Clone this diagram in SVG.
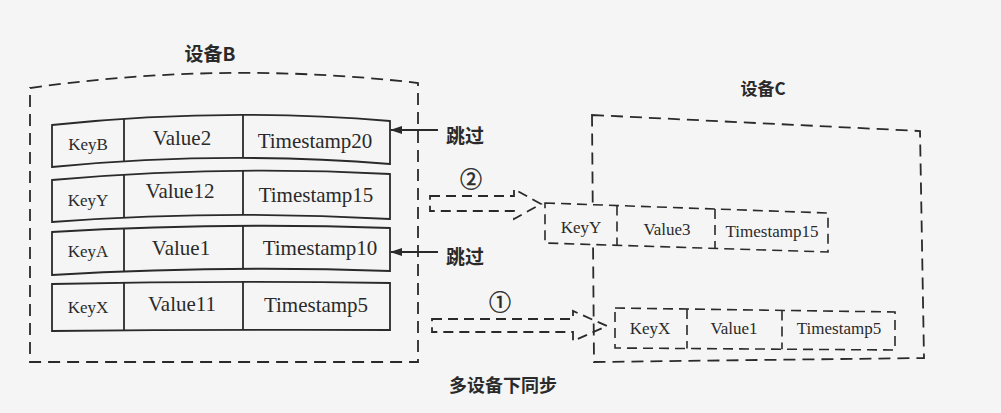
<svg xmlns="http://www.w3.org/2000/svg" width="1001" height="413" viewBox="0 0 1001 413">
<style>
.bg{fill:#f5f5f5}
.solid{fill:none;stroke:#2a2a2a;stroke-width:1.8}
.dash{fill:none;stroke:#2a2a2a;stroke-width:1.8;stroke-dasharray:12 7}
.dashs{fill:#f5f5f5;stroke:#2a2a2a;stroke-width:1.6;stroke-dasharray:10 6}
.cell{fill:#2a2a2a;font-family:"Liberation Serif","Times New Roman",serif;text-anchor:middle}
.k{font-size:17px}
.v{font-size:21px}
.c{font-size:17px}
.cjk{fill:#2a2a2a;font-family:"Noto Sans CJK SC",sans-serif;font-weight:bold}
.num{fill:#2a2a2a;font-family:"Noto Sans CJK SC",sans-serif;font-size:22px;text-anchor:middle;stroke:#2a2a2a;stroke-width:0.5}
</style>
<defs>
<marker id="ah" markerWidth="12" markerHeight="10" refX="11" refY="5" orient="auto" markerUnits="userSpaceOnUse">
<path d="M0,1 L12,5 L0,9 Z" fill="#2a2a2a"/>
</marker>
</defs>
<rect class="bg" x="0" y="0" width="1001" height="413"/>

<g id="deviceB">
<path class="dash" d="M30,88 Q224,60.5 418,83 L418,362 L30,362 Z"/>
<text class="cjk" x="210" y="61" font-size="19" text-anchor="middle">设备B</text>
</g>

<g id="rowB1">
<path class="solid" d="M52,125 Q221,107 390,121 L390,164 Q221,150.5 52,167 Z"/>
<path class="solid" d="M124,118.7 L124,161.2 M243,114.8 L243,157.9"/>
<text class="cell k" x="88" y="150">KeyB</text>
<text class="cell v" x="182" y="145">Value2</text>
<text class="cell v" x="315" y="148">Timestamp20</text>
</g>
<g id="rowB2">
<path class="solid" d="M52,180 Q221,165 390,174 L390,219 Q221,209.5 52,222 Z"/>
<path class="solid" d="M124,174.6 L124,217.5 M243,170.6 L243,214.9"/>
<text class="cell k" x="88" y="206">KeyY</text>
<text class="cell v" x="180" y="198">Value12</text>
<text class="cell v" x="316" y="202">Timestamp15</text>
</g>
<g id="rowB3">
<path class="solid" d="M52,232 Q221,222 390,228 L390,271 Q221,265 52,275 Z"/>
<path class="solid" d="M124,228.4 L124,271.3 M243,225.6 L243,268.7"/>
<text class="cell k" x="88" y="257">KeyA</text>
<text class="cell v" x="181" y="255">Value1</text>
<text class="cell v" x="320" y="255">Timestamp10</text>
</g>
<g id="rowB4">
<path class="solid" d="M52,284 Q221,280.5 390,283 L390,330 Q221,329.5 52,331 Z"/>
<path class="solid" d="M124,282.6 L124,330.3 M243,281.9 L243,329.9"/>
<text class="cell k" x="88" y="313">KeyX</text>
<text class="cell v" x="182" y="311">Value11</text>
<text class="cell v" x="316" y="312">Timestamp5</text>
</g>

<g id="deviceC">
<path class="dash" d="M592,115 L920,131 L924,358 L594,362 Z"/>
<text class="cjk" x="763" y="95" font-size="17" text-anchor="middle">设备C</text>
</g>

<g id="connectors">
<line class="solid" x1="438" y1="130" x2="391" y2="130" marker-end="url(#ah)"/>
<line class="solid" x1="438" y1="252" x2="391" y2="252" marker-end="url(#ah)"/>
<path class="dash" style="stroke-dasharray:10 6" d="M430,196 H514 V189 L541,204 L514,219 V211 H430 Z"/>
<path class="dash" style="stroke-dasharray:10 6" d="M432,319 H573 V311 L607,326 L573,341 V332 H432 Z"/>
<text class="cjk" x="446" y="143" font-size="19">跳过</text>
<text class="cjk" x="446" y="264" font-size="19">跳过</text>
<text class="num" x="471" y="187">②</text>
<text class="num" x="500" y="310">①</text>
</g>

<g id="rowC1">
<path class="dashs" d="M545,203 L828,213 L828,252 L545,243 Z"/>
<path class="dashs" d="M617,205.5 L617,245.3 M715,209 L715,248.4"/>
<text class="cell c" x="581" y="233">KeyY</text>
<text class="cell c" x="667" y="235">Value3</text>
<text class="cell c" x="772" y="237">Timestamp15</text>
</g>
<g id="rowC2">
<path class="dashs" d="M615,308 L895,312 L895,350 L615,348 Z"/>
<path class="dashs" d="M687,309 L687,348.5 M782,310.4 L782,349.2"/>
<text class="cell c" x="650" y="334">KeyX</text>
<text class="cell c" x="734" y="334">Value1</text>
<text class="cell c" x="839" y="334">Timestamp5</text>
</g>

<text id="caption" class="cjk" x="503" y="392" font-size="18" text-anchor="middle">多设备下同步</text>
</svg>
